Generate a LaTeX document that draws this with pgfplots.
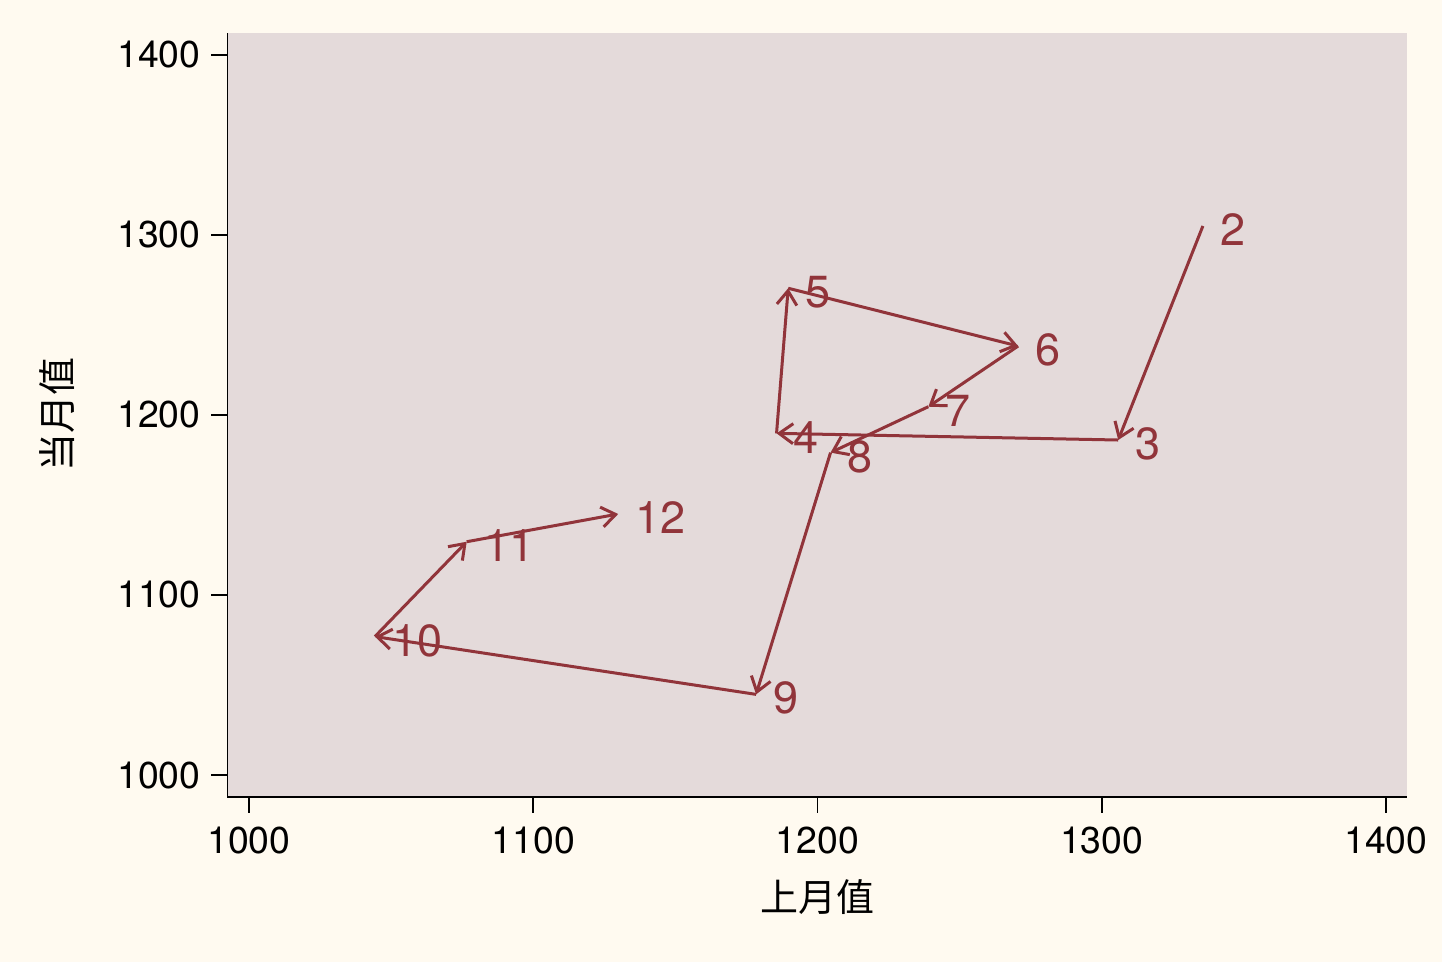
\documentclass[border=0pt]{standalone}
\usepackage{fontspec}
\setmainfont{TeX Gyre Heros}
\newfontfamily\cjk{Noto Sans CJK SC}
\usepackage{pgfplots}
\pgfplotsset{compat=1.18}
\usetikzlibrary{arrows.meta}
\definecolor{outerbg}{RGB}{255,250,240}
\definecolor{plotbg}{RGB}{228,218,218}
\definecolor{linec}{RGB}{145,52,58}

\pgfplotstableread{
x       y       u       v
1335.6  1305.0  -29.8   -118.9
1305.8  1186.1  -120.2  3.7
1185.6  1189.8  4.1     80.6
1189.7  1270.4  80.9    -32.1
1270.6  1238.3  -31.6   -33.7
1239.0  1204.6  -34.4   -25.5
1204.6  1179.1  -26.2   -134.3
1178.4  1044.8  -134.1  32.1
1044.3  1076.9  32.3    52.7
1076.6  1129.6  53.3    15.4
}\arrows

\pgfplotstableread{
x       y       lab
1335.6  1305.0  2
1305.8  1186.1  3
1185.6  1189.8  4
1189.7  1270.4  5
1270.6  1238.3  6
1239.0  1204.6  7
1204.6  1179.1  8
1178.4  1044.8  9
1044.3  1076.9  10
1076.6  1129.6  11
1129.9  1145.0  12
}\labels

\begin{document}
\begin{tikzpicture}
\fill[outerbg] (-113.75pt,-82.5pt) rectangle (607.25pt,398.5pt);
\begin{axis}[
  at={(0,0)}, anchor=south west,
  scale only axis, width=589.75pt, height=382pt,
  xmin=992.44, xmax=1407.4, ymin=987.8, ymax=1412.2,
  axis lines*=left,
  axis line style={-, line width=0.8pt, black},
  axis background/.style={fill=plotbg},
  xtick={1000,1100,1200,1300,1400},
  ytick={1000,1100,1200,1300,1400},
  tick align=outside, major tick length=8pt,
  tick style={line width=0.8pt, black},
  ticklabel style={font=\fontsize{18.7}{20}\selectfont},
  yticklabel style={xshift=-2pt},
  xticklabel style={yshift=-3.5pt},
  /pgf/number format/assume math mode=true,
  /pgf/number format/1000 sep={},
  xlabel={上月值}, ylabel={当月值},
  xlabel style={at={(axis description cs:0.5,-0.1309)}, anchor=center, font=\cjk\fontsize{19}{21}\selectfont},
  ylabel style={at={(axis description cs:-0.1441,0.5)}, anchor=center, font=\cjk\fontsize{19}{21}\selectfont},
  clip=false,
]
\addplot[linec, line width=1.5pt,
  quiver={u=\thisrow{u}, v=\thisrow{v},
    every arrow/.append style={line width=1.5pt, -{Straight Barb[length=7pt,width=10pt]}}}]
  table[x=x, y=y] {\arrows};
\addplot[draw=none, mark=none, nodes near coords, point meta=explicit symbolic,
  every node near coord/.append style={anchor=west, inner sep=0pt, xshift=8.5pt, yshift=-2pt,
    text=linec, font=\fontsize{22.5}{24}\selectfont}]
  table[x=x, y=y, meta=lab] {\labels};
\end{axis}
\end{tikzpicture}
\end{document}
